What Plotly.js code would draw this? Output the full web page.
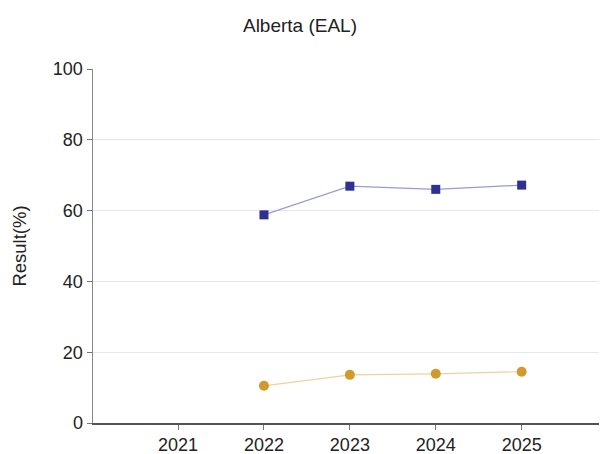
<!DOCTYPE html>
<html><head><meta charset="utf-8">
<script src="https://cdn.plot.ly/plotly-3.0.1.min.js"></script>
<style>html,body{margin:0;padding:0;background:#fff}#c{width:600px;height:454px}</style>
</head><body><div id="c"></div>
<script>
const years = [2022, 2023, 2024, 2025];
const tickYears = [2021, 2022, 2023, 2024, 2025];
const seriesA = [58.8, 66.9, 66.0, 67.2];
const seriesB = [10.5, 13.6, 13.9, 14.5];

const traces = [
  {x: years, y: seriesA, type: 'scatter', mode: 'lines+markers',
   line: {color: '#9a9ad6', width: 1.2},
   marker: {symbol: 'square', size: 9, color: '#2e3192'}, showlegend: false},
  {x: years, y: seriesB, type: 'scatter', mode: 'lines+markers',
   line: {color: '#ecd39e', width: 1.2},
   marker: {symbol: 'circle', size: 10, color: '#d19a2e'}, showlegend: false}
];
const layout = {
  width: 600, height: 454,
  margin: {l: 93, r: 1, t: 69, b: 31},
  paper_bgcolor: '#fff', plot_bgcolor: '#fff',
  font: {family: 'Liberation Sans, Arial, sans-serif', color: '#222'},
  title: {text: 'Alberta (EAL)', font: {size: 19, color: '#222'}, x: 0.5, xanchor: 'center', y: 0.945, yanchor: 'middle'},
  xaxis: {range: [2020.01, 2025.9], tickvals: tickYears, ticktext: tickYears.map(String),
    showgrid: false, zeroline: false, showline: true, linecolor: '#555', linewidth: 1.5,
    ticks: 'outside', ticklen: 5, tickcolor: '#777', tickfont: {size: 18, color: '#222'}},
  yaxis: {range: [0, 100], tickvals: [0, 20, 40, 60, 80, 100],
    showgrid: true, gridcolor: '#e6e6e6', gridwidth: 1, zeroline: false,
    showline: true, linecolor: '#888', linewidth: 1.5,
    ticks: 'outside', ticklen: 5, tickcolor: '#777', tickfont: {size: 18, color: '#222'},
    title: {text: 'Result(%)', font: {size: 18.5, color: '#222'}, standoff: 21}}
};
Plotly.newPlot('c', traces, layout, {displayModeBar: false, staticPlot: true});
</script></body></html>
